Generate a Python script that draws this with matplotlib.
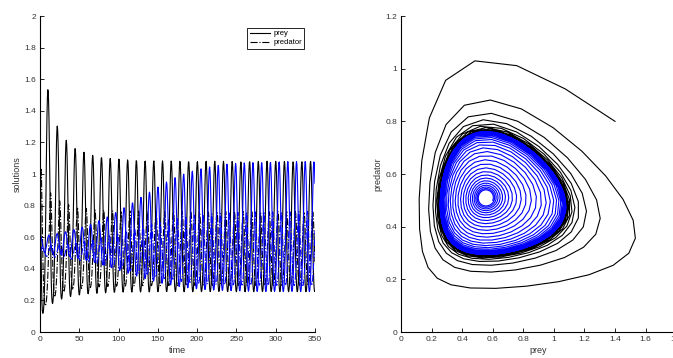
import numpy as np
import matplotlib
matplotlib.use('Agg')
import matplotlib.pyplot as plt

# predator-prey model, Holling type II uptake and response
# prey'     = r*x*(1 - x/K) - m*x*y/(a + x)
# predator' = y*(b*x/(a2 + x) - d)
K, a, a2 = 2.35, 1.07, 0.5
r, m = 1.2, 2.92
b, d = 1.54, 0.81

# two runs: one starting outside the cycle, one near the equilibrium
prey0 = [1.4, 0.6]
predator0 = [0.8, 0.5]
t_end = 350.0
run_colors = ['k', 'b']


def rhs(x, y):
    return (r * x * (1 - x / K) - m * x * y / (a + x),
            y * (b * x / (a2 + x) - d))


def solve(x0, y0, dt=0.01, every=50):
    x = np.array(x0, dtype=float)
    y = np.array(y0, dtype=float)
    n = int(round(t_end / dt))
    xs, ys = [x.copy()], [y.copy()]
    for i in range(n):
        k1 = rhs(x, y)
        k2 = rhs(x + dt / 2 * k1[0], y + dt / 2 * k1[1])
        k3 = rhs(x + dt / 2 * k2[0], y + dt / 2 * k2[1])
        k4 = rhs(x + dt * k3[0], y + dt * k3[1])
        x = x + dt / 6 * (k1[0] + 2 * k2[0] + 2 * k3[0] + k4[0])
        y = y + dt / 6 * (k1[1] + 2 * k2[1] + 2 * k3[1] + k4[1])
        if (i + 1) % every == 0:
            xs.append(x.copy())
            ys.append(y.copy())
    t = np.arange(len(xs)) * dt * every
    return t, np.array(xs), np.array(ys)


t, prey, predator = solve(prey0, predator0)

plt.rcParams['font.family'] = ['Liberation Sans', 'DejaVu Sans']
fig = plt.figure(figsize=(6.73, 3.58), dpi=100)
ax1 = fig.add_axes([0.0594, 0.0726, 0.4086, 0.8827])
ax2 = fig.add_axes([0.596, 0.0726, 0.4086, 0.8827])

for k, c in enumerate(run_colors):
    ax1.plot(t, prey[:, k], color=c, lw=0.8, label='prey' if k == 0 else None)
    ax1.plot(t, predator[:, k], color=c, lw=0.8, ls='-.', label='predator' if k == 0 else None)
    ax2.plot(prey[:, k], predator[:, k], color=c, lw=0.8)

ax1.set_xlim(0, 350)
ax1.set_ylim(0, 2)
ax1.set_xticks(np.arange(0, 351, 50))
ax1.set_yticks(np.arange(0, 2.01, 0.2))
ax1.set_xlabel('time', labelpad=2)
ax1.set_ylabel('solutions', labelpad=2)
leg = ax1.legend(loc='upper right', fontsize=5.5, fancybox=False, framealpha=1,
                 edgecolor='k', handlelength=2.6, borderpad=0.3, labelspacing=0.2,
                 handletextpad=0.5, bbox_to_anchor=(0.975, 0.975))
leg.get_frame().set_linewidth(0.6)

ax2.set_xlim(0, 1.8)
ax2.set_ylim(0, 1.2)
ax2.set_xticks(np.arange(0, 1.81, 0.2))
ax2.set_yticks(np.arange(0, 1.21, 0.2))
ax2.set_xlabel('prey', labelpad=2)
ax2.set_ylabel('predator', labelpad=2)

fmt = lambda v, p: ('%.1f' % v).rstrip('0').rstrip('.')
for ax in (ax1, ax2):
    ax.spines['top'].set_visible(False)
    ax.spines['right'].set_visible(False)
    for s in ('left', 'bottom'):
        ax.spines[s].set_linewidth(0.8)
    ax.tick_params(direction='in', length=3, width=0.6, labelsize=6,
                   labelcolor='#333333', pad=3)
    ax.xaxis.label.set_size(6.5)
    ax.yaxis.label.set_size(6.5)
    ax.xaxis.label.set_color('#333333')
    ax.yaxis.label.set_color('#333333')
    ax.xaxis.set_major_formatter(matplotlib.ticker.FuncFormatter(fmt))
    ax.yaxis.set_major_formatter(matplotlib.ticker.FuncFormatter(fmt))

fig.savefig('out.png', dpi=100)
